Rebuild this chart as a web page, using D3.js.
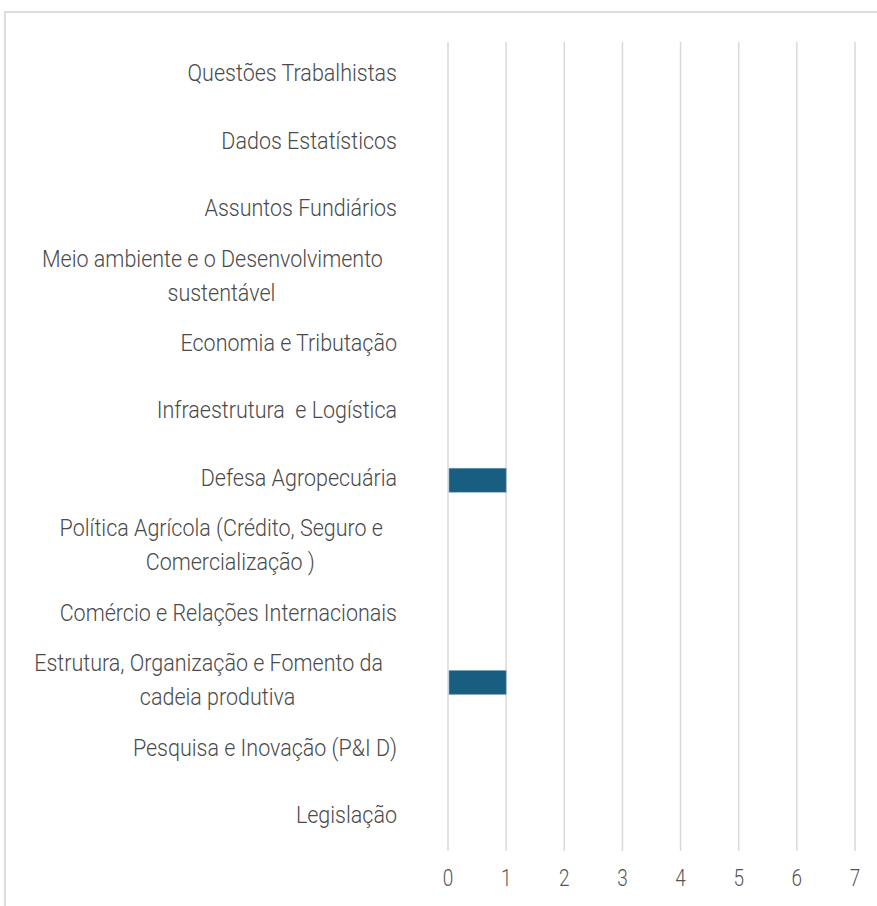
<!DOCTYPE html>
<html>
<head>
<meta charset="utf-8">
<script src="https://cdn.jsdelivr.net/npm/d3@7"></script>
<style>
  body { margin: 0; background: #fff; }
  svg { display: block; }
</style>
</head>
<body>
<svg id="chart" width="877" height="906"></svg>
<script>
// categories, top to bottom ("\n" = wrapped line)
const categories = [
  "Questões Trabalhistas",
  "Dados Estatísticos",
  "Assuntos Fundiários",
  "Meio ambiente e o Desenvolvimento\nsustentável",
  "Economia e Tributação",
  "Infraestrutura  e Logística",
  "Defesa Agropecuária",
  "Política Agrícola (Crédito, Seguro e\nComercialização )",
  "Comércio e Relações Internacionais",
  "Estrutura, Organização e Fomento da\ncadeia produtiva",
  "Pesquisa e Inovação (P&I D)",
  "Legislação"
];
const values = [0, 0, 0, 0, 0, 0, 1, 0, 0, 1, 0, 0];
const xTicks = [0, 1, 2, 3, 4, 5, 6, 7];

const svg = d3.select("#chart");
const width = 877, height = 906;
const stretch = 1.15; // text in the picture is a bit tall / narrow

// frame
svg.append("rect")
  .attr("x", 5).attr("y", 12)
  .attr("width", width + 10).attr("height", height + 10)
  .attr("fill", "none")
  .attr("stroke", "#dcdcdc")
  .attr("stroke-width", 2);

const x = d3.scaleLinear().domain([0, 7]).range([448, 855]);
const y = d3.scaleBand().domain(categories).range([42, 851]).paddingInner(0).paddingOuter(0);

// gridlines
svg.append("g")
  .selectAll("line")
  .data(xTicks)
  .join("line")
  .attr("x1", d => x(d)).attr("x2", d => x(d))
  .attr("y1", 42).attr("y2", 851)
  .attr("stroke", "#d9d9d9")
  .attr("stroke-width", 1.5);

// bars
const barH = 24;
svg.append("g")
  .selectAll("rect")
  .data(categories.map((c, i) => ({ c, v: values[i] })).filter(d => d.v > 0))
  .join("rect")
  .attr("x", x(0) + 1)
  .attr("y", d => y(d.c) + y.bandwidth() / 2 - barH / 2)
  .attr("width", d => x(d.v) - x(0) - 1)
  .attr("height", barH)
  .attr("fill", "#185e80")
  .attr("stroke", "#7fa6b9")
  .attr("stroke-width", 0.6);

// x tick labels
svg.append("g")
  .attr("font-family", "Roboto, sans-serif")
  .attr("font-weight", 300)
  .attr("font-size", 20)
  .attr("fill", "#555")
  .selectAll("text")
  .data(xTicks)
  .join("text")
  .attr("transform", d => `translate(${x(d)},878) scale(0.95,${stretch + 0.05})`)
  .attr("dy", "0.35em")
  .attr("text-anchor", "middle")
  .text(d => d);

// category labels
const labelRight = 397;
const lineH = 34;
const lab = svg.append("g")
  .attr("font-family", "Roboto, sans-serif")
  .attr("font-weight", 300)
  .attr("font-size", 21.5)
  .attr("fill", "#4a4a4a");

categories.forEach(c => {
  const lines = c.split("\n");
  const cy = y(c) + y.bandwidth() / 2 - 3;
  if (lines.length === 1) {
    lab.append("text")
      .attr("transform", `translate(${labelRight},${cy}) scale(1,${stretch})`)
      .attr("dy", "0.35em")
      .attr("text-anchor", "end")
      .style("white-space", "pre")
      .text(c);
  } else {
    const g = lab.append("g");
    const spans = lines.map(l => g.append("text")
      .attr("text-anchor", "middle")
      .attr("dy", "0.35em")
      .text(l));
    const w = d3.max(spans, s => s.node().getComputedTextLength());
    const cx = labelRight - 14 - w / 2;
    // wrapped lines sit slightly right of the first line's centre
    spans.forEach((s, i) => s.attr("transform",
      `translate(${cx + (i > 0 ? 9 : 0)},${cy + (i - (lines.length - 1) / 2) * lineH}) scale(1,${stretch})`));
  }
});
</script>
</body>
</html>
